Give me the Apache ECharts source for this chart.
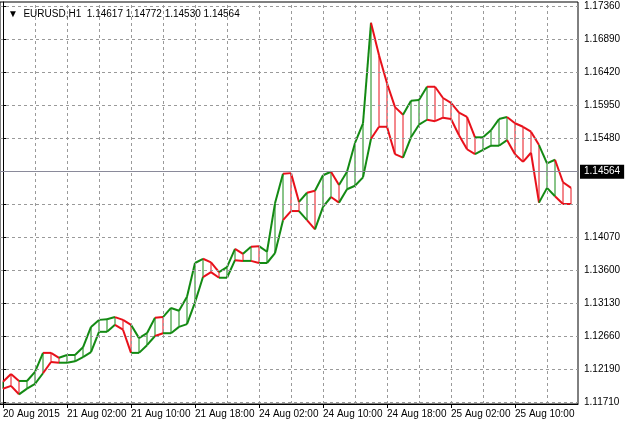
<!DOCTYPE html>
<html><head><meta charset="utf-8">
<script src="https://cdn.jsdelivr.net/npm/echarts@6/dist/echarts.min.js"></script>
<style>html,body{margin:0;padding:0;background:#fff}#c{width:639px;height:423px}</style>
</head><body><div id="c"></div>
<script>
const upper = [1.1201,1.1212,1.1202,1.1202,1.1215,1.1242,1.1242,1.1235,1.1239,1.1239,1.1250,1.1279,1.1289,1.1290,1.1293,1.1289,1.1282,1.1263,1.1270,1.1292,1.1293,1.1306,1.1302,1.1322,1.1370,1.1376,1.1371,1.1357,1.1364,1.1390,1.1383,1.1393,1.1394,1.1386,1.1455,1.1497,1.1498,1.1457,1.1470,1.1473,1.1495,1.1500,1.1481,1.1500,1.1541,1.1569,1.1712,1.1666,1.1626,1.1592,1.1581,1.1601,1.1602,1.1621,1.1621,1.1605,1.1598,1.1584,1.1578,1.1549,1.1549,1.1559,1.1575,1.1578,1.1569,1.1564,1.1557,1.1538,1.1512,1.1517,1.1485,1.1477];
const lower = [1.1191,1.1195,1.1183,1.1191,1.1198,1.1213,1.1229,1.1228,1.1228,1.1230,1.1236,1.1243,1.1272,1.1272,1.1282,1.1275,1.1242,1.1242,1.1253,1.1266,1.1270,1.1270,1.1279,1.1283,1.1314,1.1350,1.1357,1.1349,1.1349,1.1374,1.1373,1.1373,1.1370,1.1370,1.1384,1.1431,1.1444,1.1444,1.1431,1.1418,1.1450,1.1464,1.1456,1.1475,1.1480,1.1492,1.1547,1.1564,1.1564,1.1525,1.1520,1.1549,1.1567,1.1574,1.1572,1.1577,1.1575,1.1552,1.1532,1.1525,1.1531,1.1537,1.1537,1.1545,1.1525,1.1514,1.1527,1.1456,1.1477,1.1465,1.1454,1.1454];
// 1 = bullish (green), 0 = bearish (red)
const dir = [1,0,0,1,1,1,0,0,1,1,1,1,1,1,1,0,0,1,1,1,0,1,1,1,1,1,0,0,1,1,0,1,0,1,1,1,0,0,1,0,1,1,0,1,1,1,1,0,0,0,0,1,1,1,0,0,0,0,0,0,1,1,1,1,0,0,0,0,1,1,0,0];
const yTicks = [1.1736,1.1689,1.1642,1.1595,1.1548,1.1501,1.1454,1.1407,1.1360,1.1313,1.1266,1.1219,1.1172];
const yTickLabels = ["1.17360","1.16890","1.16420","1.15950","1.15480","1.15010","","1.14070","1.13600","1.13130","1.12660","1.12190","1.11710"];
const xTicks = [0,8,16,24,32,40,48,56,64];
const xTickLabels = ["20 Aug 2015","21 Aug 02:00","21 Aug 10:00","21 Aug 18:00","24 Aug 02:00","24 Aug 10:00","24 Aug 18:00","25 Aug 02:00","25 Aug 10:00"];
const vGrid = [4,8,12,16,20,24,28,32,36,40,44,48,52,56,60,64,68];
const lastPrice = 1.14564;
const title = "EURUSD,H1  1.14617 1.14772 1.14530 1.14564";

const GREEN = '#138a13', RED = '#e8101a';
const XMIN = -0.375, XMAX = 71.875, YMIN = 1.11692, YMAX = 1.17417;
const data = upper.map((u,i)=>[i,u,lower[i],i>0?upper[i-1]:u,i>0?lower[i-1]:lower[i],dir[i]]);
const gridLines = vGrid.map(v=>[{coord:[v,YMIN]},{coord:[v,YMAX]}])
  .concat(yTicks.map(v=>[{coord:[XMIN,v]},{coord:[XMAX,v]}]));

const chart = echarts.init(document.getElementById('c'));
chart.setOption({
  animation:false,
  textStyle:{fontFamily:'Liberation Sans'},
  title:{text:'▼  '+title,left:3,top:4,textStyle:{fontSize:10,fontWeight:'normal',color:'#000',fontFamily:'Liberation Sans'}},
  grid:{left:0,top:2,right:61,bottom:19,show:true,borderColor:'#000',borderWidth:1,backgroundColor:'#fff'},
  xAxis:{type:'value',min:XMIN,max:XMAX,
    axisLine:{show:true,lineStyle:{color:'#000'}},
    axisTick:{show:true,customValues:xTicks,length:4,lineStyle:{color:'#000'}},
    axisLabel:{customValues:xTicks,formatter:v=>xTickLabels[xTicks.indexOf(v)]||'',align:'left',fontSize:10,color:'#000',margin:5},
    splitLine:{show:false}},
  yAxis:{type:'value',position:'right',min:YMIN,max:YMAX,
    axisLine:{show:true,lineStyle:{color:'#000'}},
    axisTick:{show:true,customValues:yTicks,length:4,lineStyle:{color:'#000'}},
    axisLabel:{customValues:yTicks,formatter:v=>{const k=yTicks.findIndex(t=>Math.abs(t-v)<1e-7);return k>=0?yTickLabels[k]:'';},fontSize:10,color:'#000',margin:6},
    splitLine:{show:false}},
  series:[
    {type:'line',data:[[XMIN,YMIN]],symbol:'none',lineStyle:{width:0},silent:true,
      markLine:{symbol:'none',silent:true,label:{show:false},
        lineStyle:{color:'#9a9a9a',type:[3,3],width:1},
        data:gridLines}},
    {type:'custom',data:data,silent:true,
      renderItem:(params,api)=>{
        const i=api.value(0), col=api.value(5)?GREEN:RED;
        const pU=api.coord([i,api.value(1)]), pL=api.coord([i,api.value(2)]);
        const children=[{type:'line',shape:{x1:pU[0],y1:pU[1],x2:pL[0],y2:pL[1]},style:{stroke:col,lineWidth:1}}];
        if(i>0){
          const qU=api.coord([i-1,api.value(3)]), qL=api.coord([i-1,api.value(4)]);
          children.push({type:'line',shape:{x1:qU[0],y1:qU[1],x2:pU[0],y2:pU[1]},style:{stroke:col,lineWidth:2}});
          children.push({type:'line',shape:{x1:qL[0],y1:qL[1],x2:pL[0],y2:pL[1]},style:{stroke:col,lineWidth:2}});
        }
        return {type:'group',children};
      },
      markLine:{symbol:'none',silent:true,lineStyle:{color:'#8a8a9a',type:'solid',width:1},
        label:{show:true,position:'end',formatter:lastPrice.toFixed(5),backgroundColor:'#000',color:'#fff',fontSize:10,padding:[2,4,2,4],distance:2},
        data:[{yAxis:lastPrice}]}}
  ]
});
</script></body></html>
